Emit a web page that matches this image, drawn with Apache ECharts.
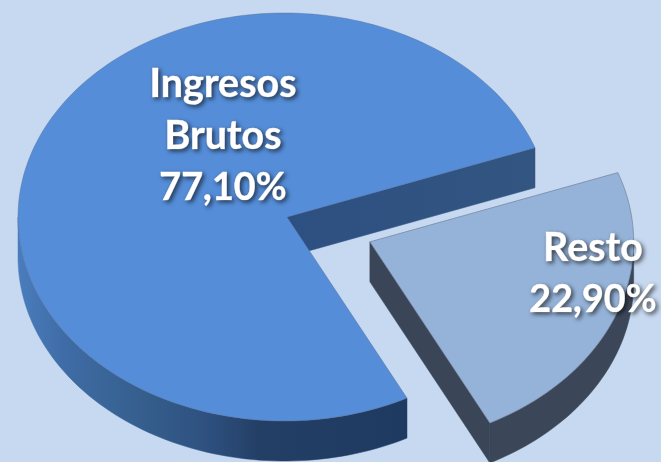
<!DOCTYPE html>
<html><head><meta charset="utf-8">
<style>html,body{margin:0;padding:0;background:#c6d9f1}#c{width:661px;height:462px}</style>
<script src="https://cdn.jsdelivr.net/npm/echarts@6/dist/echarts.min.js"></script>
</head><body><div id="c"></div>
<script>
const categories = ['Ingresos\nBrutos', 'Resto'];
const shareValues = [77.10, 22.90];
const exploded = [0, 1];
const topColors = ['#558dd8', '#95b3d9'];

const cx = 284.4, cy = 217, rx = 266.4, ry = 204, depth = 40;
const apexShift = 2.6;
const explodeDist = 89;
const firstAngle = 62.6;          // degrees, clockwise from 3 o'clock on screen
const labelPos = [[223, 136], [593, 274]];
const total = shareValues.reduce((a, b) => a + b, 0);
const G = echarts.graphic.LinearGradient;

const chart = echarts.init(document.getElementById('c'));

function pt(deg, ox, oy, dz) {
  const r = deg * Math.PI / 180;
  return [cx + ox + rx * Math.cos(r), cy + oy + dz + ry * Math.sin(r)];
}
function arc(a0, a1, ox, oy, dz) {
  const n = Math.max(2, Math.ceil(Math.abs(a1 - a0) / 1.5));
  const out = [];
  for (let i = 0; i <= n; i++) out.push(pt(a0 + (a1 - a0) * i / n, ox, oy, dz));
  return out;
}
function poly(points, fill, z2, stroke) {
  return {
    type: 'polygon', z2: z2, silent: true,
    shape: { points: points },
    style: { fill: fill, stroke: stroke || fill, lineWidth: stroke ? 0.8 : 0.5 }
  };
}
function textLine(str, x, y, size) {
  return {
    type: 'text', z2: 10, silent: true,
    style: {
      text: str, x: x, y: y,
      align: 'center', verticalAlign: 'middle',
      font: 'bold ' + size + 'px Lato', fill: '#ffffff',
      stroke: '#ffffff', lineWidth: 0.6,
      textShadowColor: 'rgba(0,0,0,0.6)', textShadowBlur: 4, textShadowOffsetX: 2, textShadowOffsetY: 2
    }
  };
}

function renderItem(params, api) {
  const i = params.dataIndex;
  let start = firstAngle;
  for (let k = 0; k < i; k++) start += shareValues[k] / total * 360;
  const sweep = api.value(0) / total * 360;
  const end = start + sweep;
  const mid = (start + end) / 2 * Math.PI / 180;
  const ox = exploded[i] ? explodeDist * Math.cos(mid) : 0;
  const oy = exploded[i] ? explodeDist * Math.sin(mid) * ry / rx : 0;
  const apex = [cx + apexShift + ox, cy + oy];
  const apexLow = [apex[0], apex[1] + depth];
  const children = [];

  // outer rim: only the part facing the viewer (0..180 deg, modulo 360)
  const a0 = Math.max(start, 0), a1 = Math.min(end, 180);
  const b0 = Math.max(start, 360), b1 = Math.min(end, 540);
  const rim = (f, t, fill) => poly(
    arc(f, t, ox, oy, 0).concat(arc(t, f, ox, oy, depth)), fill, 2);
  const e = pt(end, ox, oy, 0), eLow = pt(end, ox, oy, depth);
  if (i === 0) {
    const rimFill = new G(0, 0, 1, 0, [
      { offset: 0, color: '#4a7dbd' },
      { offset: 0.12, color: '#3f6ca6' },
      { offset: 0.3, color: '#36608f' },
      { offset: 0.48, color: '#2e5180' },
      { offset: 0.62, color: '#243f66' },
      { offset: 1, color: '#1f3a60' }
    ]);
    if (a1 > a0) children.push(rim(a1, a0, rimFill));
    children.push(poly([apex, e, eLow, apexLow], new G(0, 0, 1, 0, [
      { offset: 0, color: '#2d5082' },
      { offset: 1, color: '#325581' }
    ]), 1));
  } else {
    if (b1 > b0) children.push(rim(b0, b1, '#3b4759'));
    if (a1 > a0) children.push(rim(a0, a1, '#3b4759'));
    children.push(poly([apex, e, eLow, apexLow], '#3a4658', 1));
  }
  // top face
  children.push(poly([apex].concat(arc(start, end, ox, oy, 0)),
    topColors[i], 3, i === 0 ? 'rgba(90,110,150,0.55)' : 'rgba(110,125,150,0.8)'));
  // label: name lines, then the value
  const lines = categories[i].split('\n');
  const valueText = api.value(0).toFixed(2).replace('.', ',') + '%';
  const n = lines.length + 1, lh = 52;
  lines.forEach((s, k) => children.push(
    textLine(s, labelPos[i][0], labelPos[i][1] + (k - (n - 1) / 2) * lh, 39.5)));
  children.push(textLine(valueText, labelPos[i][0], labelPos[i][1] + (n - 1) / 2 * lh, 37.8));
  return { type: 'group', children: children };
}

chart.setOption({
  animation: false,
  backgroundColor: '#c6d9f1',
  series: [{
    type: 'custom',
    coordinateSystem: 'none',
    renderItem: renderItem,
    clip: false,
    data: shareValues.map((v, i) => ({ name: categories[i], value: [v] }))
  }]
});
</script></body></html>
